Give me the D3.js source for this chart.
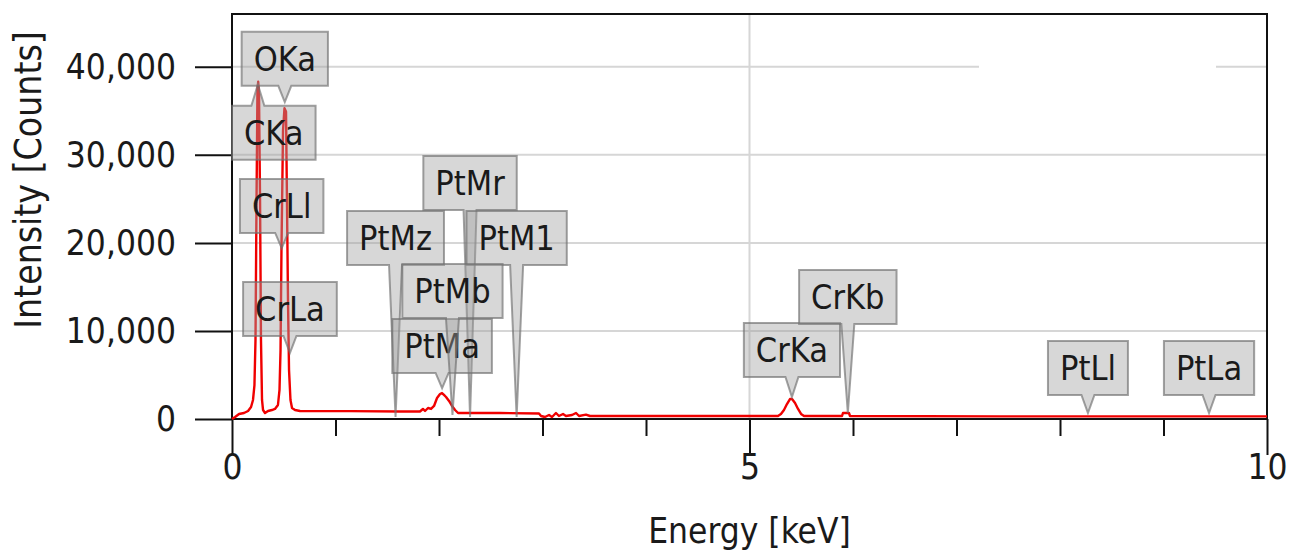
<!DOCTYPE html>
<html>
<head>
<meta charset="utf-8">
<script src="https://cdn.jsdelivr.net/npm/d3@7/dist/d3.min.js"></script>
<style>
  html, body { margin: 0; padding: 0; background: #ffffff; }
  svg { display: block; }
  text { font-family: "DejaVu Sans Condensed", "DejaVu Sans", sans-serif; fill: #1a1a1a; }
</style>
</head>
<body>
<svg id="chart" width="1290" height="553"></svg>
<script>
// EDS spectrum: energy [keV] and intensity [counts]
const energy = [
  0, 0.03, 0.068, 0.116, 0.155, 0.184, 0.203, 0.217, 0.227, 0.237, 0.246, 0.253, 0.261, 0.271, 0.280, 0.290,
  0.300, 0.319, 0.348, 0.386, 0.415, 0.444, 0.459, 0.469, 0.478, 0.493, 0.507, 0.522, 0.531, 0.541, 0.551,
  0.565, 0.580, 0.609, 0.657, 1.14, 1.623, 1.816, 1.845, 1.865, 1.894, 1.923, 1.952, 1.981, 2.010, 2.029,
  2.048, 2.068, 2.097, 2.126, 2.155, 2.184, 2.30, 2.589, 2.966, 2.986, 3.024, 3.063, 3.092, 3.130, 3.159,
  3.198, 3.227, 3.285, 3.324, 3.353, 3.420, 3.459, 4.04, 4.52, 5.275, 5.304, 5.333, 5.362, 5.391, 5.411,
  5.440, 5.469, 5.498, 5.527, 5.894, 5.903, 5.961, 5.971, 7.42, 10
];
const counts = [
  0, 230, 570, 680, 910, 1360, 2160, 3860, 8980, 24900, 37400, 38300, 36800, 24900, 8980, 2160,
  1020, 680, 910, 1020, 1140, 1590, 3300, 7840, 19200, 32800, 35300, 34900, 24900, 13500, 5570,
  2160, 1250, 1020, 910, 900, 850, 850, 1140, 910, 1250, 1140, 1480, 2390, 2840, 2950,
  2730, 2500, 2050, 1480, 1020, 680, 680, 680, 620, 340, 230, 450, 230, 680, 340,
  570, 340, 450, 680, 340, 500, 340, 340, 340, 340, 570, 1020, 1700, 2270, 2270,
  1820, 1140, 570, 340, 340, 680, 680, 340, 300, 300
];

// Peak identification labels
const peakNames  = ["CKa", "OKa", "CrLl", "CrLa", "PtMz", "PtMr", "PtM1", "PtMa", "PtMb", "CrKa", "CrKb", "PtLl", "PtLa"];
const peakEnergy = [0.25, 0.51, 0.48, 0.56, 1.58, 2.30, 2.75, 2.03, 2.13, 5.41, 5.95, 8.27, 9.44];
const tipCounts  = [38000, 36000, 19400, 7500, 230, 230, 230, 3500, 450, 2500, 680, 680, 680];
const labelLevel = [35570, 37840, 21140, 9430, 17500, 23750, 17500, 5230, 11480, 4770, 10800, 2730, 2730];

const yTicks = [0, 10000, 20000, 30000, 40000];
const xMajor = [0, 5, 10];
const xMinor = [1, 2, 3, 4, 6, 7, 8, 9];

const svg = d3.select("#chart");
const plotLeft = 232, plotRight = 1267, plotTop = 14, plotBottom = 419;
const fontFamily = '"DejaVu Sans Condensed", "DejaVu Sans", sans-serif';

const x = d3.scaleLinear().domain([0, 10]).range([plotLeft, plotRight]);
const y = d3.scaleLinear().domain([0, 46000]).range([plotBottom, plotTop]);

// grid
const grid = svg.append("g").attr("stroke", "#d6d6d6").attr("stroke-width", 2);
grid.selectAll("line.h").data(yTicks.filter(d => d > 0)).join("line")
  .attr("x1", plotLeft).attr("x2", plotRight)
  .attr("y1", d => y(d)).attr("y2", d => y(d));
grid.append("line")
  .attr("x1", x(5)).attr("x2", x(5))
  .attr("y1", plotTop).attr("y2", plotBottom);

// empty legend area
svg.append("rect").attr("x", 979).attr("y", 40).attr("width", 237).attr("height", 60).attr("fill", "#ffffff");

// axes
const yAxis = d3.axisLeft(y).tickValues(yTicks).tickFormat(d3.format(",")).tickSize(37).tickPadding(19);
const gy = svg.append("g").attr("transform", `translate(${plotLeft},0)`).call(yAxis);
gy.select(".domain").remove();
gy.selectAll(".tick line").attr("stroke", "#111").attr("stroke-width", 2);
gy.selectAll(".tick text").attr("font-size", 35).attr("fill", "#1a1a1a")
  .style("font-family", fontFamily);

const xAxis = d3.axisBottom(x).tickValues(xMajor).tickFormat(d3.format("d")).tickSize(36).tickPadding(-1);
const gx = svg.append("g").attr("transform", `translate(0,${plotBottom})`).call(xAxis);
gx.select(".domain").remove();
gx.selectAll(".tick line").attr("stroke", "#111").attr("stroke-width", 2);
gx.selectAll(".tick text").attr("font-size", 35).attr("fill", "#1a1a1a")
  .style("font-family", fontFamily);

const xAxisMinor = d3.axisBottom(x).tickValues(xMinor).tickFormat("").tickSize(17);
const gxm = svg.append("g").attr("transform", `translate(0,${plotBottom})`).call(xAxisMinor);
gxm.select(".domain").remove();
gxm.selectAll(".tick line").attr("stroke", "#111").attr("stroke-width", 2);

// frame
const frame = svg.append("g").attr("stroke", "#111").attr("stroke-width", 2).attr("fill", "none");
frame.append("path").attr("d", `M${plotLeft},${plotBottom} V${plotTop} H${plotRight} V${plotBottom}`);
frame.append("line").attr("x1", plotLeft).attr("x2", plotRight).attr("y1", plotBottom).attr("y2", plotBottom);

// spectrum
const line = d3.line().x((d, i) => x(energy[i])).y(d => y(d));
svg.append("path").datum(counts)
  .attr("d", line)
  .attr("fill", "none")
  .attr("stroke", "#f00000")
  .attr("stroke-width", 2.4)
  .attr("stroke-linejoin", "round");

// peak labels
const boxH = 54, pad = 12, half = 6.5;
const lab = svg.append("g");
peakNames.forEach((name, i) => {
  const g = lab.append("g");
  const path = g.append("path");
  const t = g.append("text").text(name).attr("font-size", 34).attr("text-anchor", "middle");
  const w = t.node().getComputedTextLength() + 2 * pad;
  const tx = x(peakEnergy[i]), ty = y(tipCounts[i]);
  let l = tx - w / 2;
  l = Math.max(plotLeft, Math.min(plotRight - w, l));
  const r = l + w;
  const up = labelLevel[i] < tipCounts[i];
  let tY, bY, d;
  if (up) {
    tY = y(labelLevel[i]); bY = tY + boxH;
    d = `M${l},${tY} H${tx - half} L${tx},${ty} L${tx + half},${tY} H${r} V${bY} H${l} Z`;
  } else {
    bY = y(labelLevel[i]); tY = bY - boxH;
    d = `M${l},${tY} H${r} V${bY} H${tx + half} L${tx},${ty} L${tx - half},${bY} H${l} Z`;
  }
  path.attr("d", d)
    .attr("fill", "rgba(160,160,160,0.42)")
    .attr("stroke", "rgba(110,110,110,0.65)")
    .attr("stroke-width", 2);
  t.attr("x", l + w / 2).attr("y", (tY + bY) / 2).attr("dy", "0.36em");
});

// axis titles
svg.append("text").attr("x", x(5)).attr("y", 543).attr("text-anchor", "middle")
  .attr("font-size", 35).text("Energy [keV]");
svg.append("text").attr("transform", `translate(41,180) rotate(-90)`)
  .attr("text-anchor", "middle").attr("font-size", 37).text("Intensity [Counts]");
</script>
</body>
</html>
